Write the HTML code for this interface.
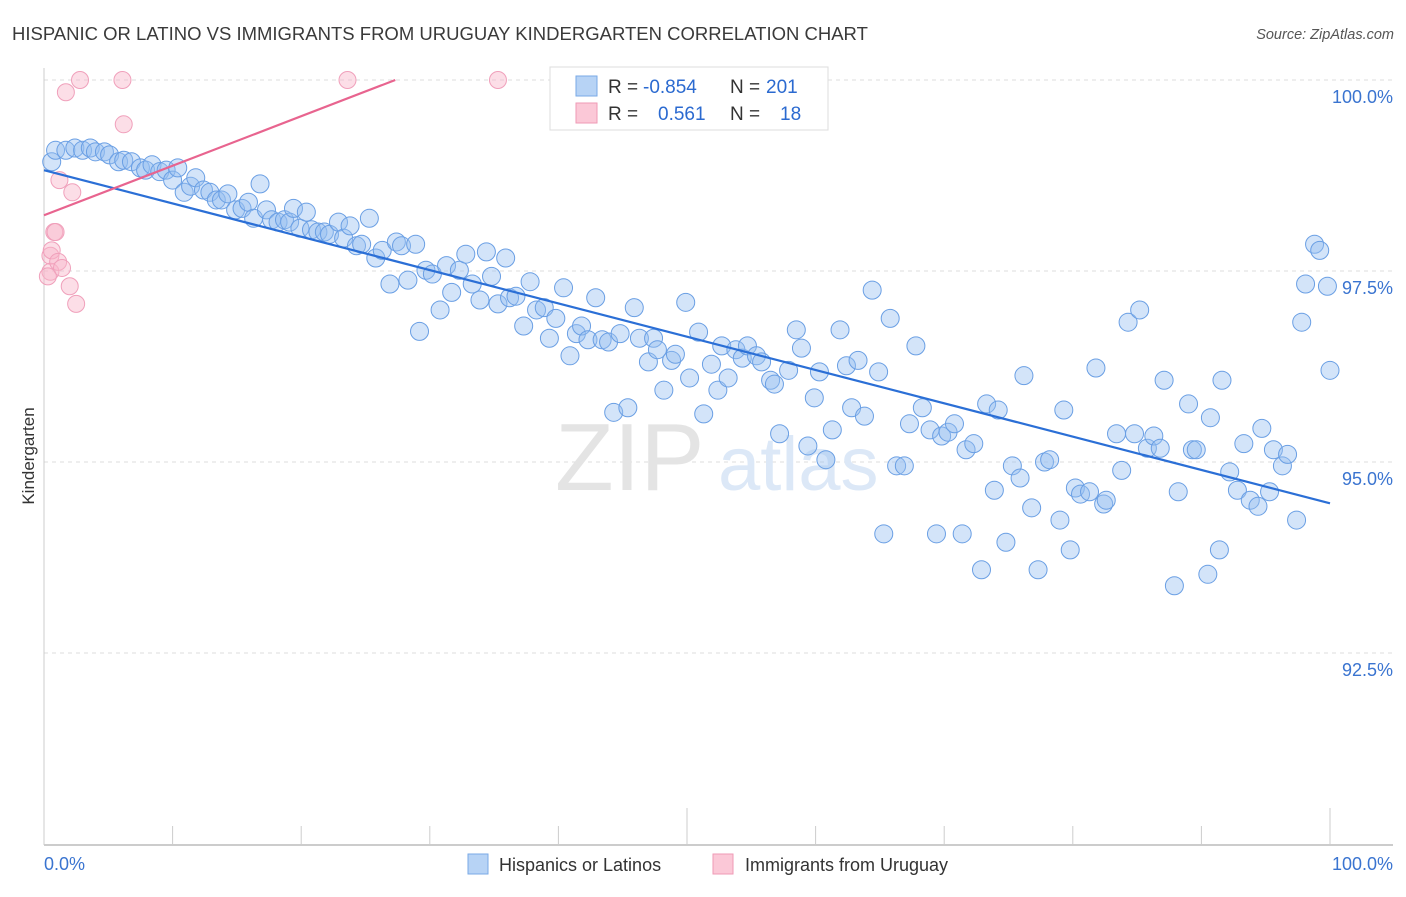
<!DOCTYPE html>
<html><head><meta charset="utf-8"><style>
body{margin:0;background:#fff;font-family:"Liberation Sans",sans-serif;}
svg text{font-family:"Liberation Sans",sans-serif;}
</style></head><body>
<svg width="1406" height="892">
<text x="12" y="40" font-size="18.5" fill="#3a3a3a">HISPANIC OR LATINO VS IMMIGRANTS FROM URUGUAY KINDERGARTEN CORRELATION CHART</text>
<text x="1394" y="39" font-size="14.5" fill="#555" text-anchor="end" font-style="italic">Source: ZipAtlas.com</text>
<g id="grid"></g>
<text x="555" y="490" font-size="96" fill="#e4e4e4" font-family="Liberation Serif">ZIP</text>
<text x="718" y="490" font-size="76" fill="#dce8f7">atlas</text>
<g id="pts"></g>
<g id="lines"></g>
<text x="34" y="456" font-size="17" fill="#333" text-anchor="middle" transform="rotate(-90 34 456)">Kindergarten</text>
<g>
<rect x="550" y="67" width="278" height="63" fill="#fff" stroke="#ddd"/>
<rect x="576" y="76" width="21" height="20" fill="#b7d3f5" stroke="#7aa9e6"/>
<rect x="576" y="103" width="21" height="20" fill="#fbc8d7" stroke="#ef9ab6"/>
<text x="608" y="93" font-size="19" fill="#333">R = <tspan fill="#2b6ad0" x="643">-0.854</tspan><tspan x="730">N =</tspan><tspan fill="#2b6ad0" x="766">201</tspan></text>
<text x="608" y="120" font-size="19" fill="#333">R = <tspan fill="#2b6ad0" x="658">0.561</tspan><tspan x="730">N =</tspan><tspan fill="#2b6ad0" x="780">18</tspan></text>
</g>
<g>
<rect x="468" y="854" width="20" height="20" fill="#b7d3f5" stroke="#7aa9e6"/>
<text x="499" y="871" font-size="18" fill="#333">Hispanics or Latinos</text>
<rect x="713" y="854" width="20" height="20" fill="#fbc8d7" stroke="#ef9ab6"/>
<text x="745" y="871" font-size="18" fill="#333">Immigrants from Uruguay</text>
</g>
</svg>
<script>
const yTicks=[100,97.5,95,92.5];
const yTickLabels=["100.0%","97.5%","95.0%","92.5%"];
const xTickLabels=["0.0%","100.0%"];
const blueX=[0.6,0.9,1.7,2.4,3.0,3.6,4.0,4.7,5.1,5.8,6.2,6.8,7.5,7.9,8.4,9.0,9.5,10.0,10.4,10.9,11.4,11.8,12.4,12.9,13.4,13.8,14.3,14.9,15.4,15.9,16.3,16.8,17.3,17.7,18.2,18.7,19.1,19.4,19.9,20.4,20.8,21.3,21.8,22.2,22.9,23.3,23.8,24.3,24.7,25.3,25.8,26.3,26.9,27.4,27.8,28.3,28.9,29.2,29.7,30.2,30.8,31.3,31.7,32.3,32.8,33.3,33.9,34.4,34.8,35.3,35.9,36.2,36.7,37.3,37.8,38.3,38.9,39.3,39.8,40.4,40.9,41.4,41.8,42.3,42.9,43.4,43.9,44.3,44.8,45.4,45.9,46.3,47.0,47.4,47.7,48.2,48.8,49.1,49.9,50.2,50.9,51.3,51.9,52.4,52.7,53.2,53.8,54.3,54.7,55.4,55.8,56.5,56.8,57.2,57.9,58.5,58.9,59.4,59.9,60.3,60.8,61.3,61.9,62.4,62.8,63.3,63.8,64.4,64.9,65.3,65.8,66.3,66.9,67.3,67.8,68.3,68.9,69.4,69.8,70.3,70.8,71.4,71.7,72.3,72.9,73.3,73.9,74.2,74.8,75.3,75.9,76.2,76.8,77.3,77.8,78.2,79.0,79.3,79.8,80.2,80.6,81.3,81.8,82.4,82.6,83.4,83.8,84.3,84.8,85.2,85.8,86.3,86.8,87.1,87.9,88.2,89.0,89.3,89.6,90.5,90.7,91.4,91.6,92.2,92.8,93.3,93.8,94.4,94.7,95.3,95.6,96.3,96.7,97.4,97.8,98.1,98.8,99.2,99.8,100];
const blueY=[98.93,99.08,99.08,99.11,99.08,99.11,99.06,99.06,99.02,98.93,98.95,98.93,98.85,98.82,98.89,98.80,98.82,98.69,98.85,98.53,98.61,98.72,98.56,98.53,98.43,98.43,98.51,98.30,98.32,98.40,98.19,98.64,98.30,98.17,98.14,98.17,98.14,98.32,98.06,98.27,98.04,98.01,98.01,97.98,98.14,97.93,98.09,97.83,97.85,98.19,97.67,97.77,97.33,97.88,97.83,97.38,97.85,96.71,97.51,97.46,96.99,97.57,97.22,97.51,97.72,97.33,97.12,97.75,97.43,97.07,97.67,97.15,97.17,96.78,97.36,96.99,97.02,96.62,96.88,97.28,96.39,96.68,96.78,96.60,97.15,96.60,96.57,95.65,96.68,95.71,97.02,96.62,96.31,96.62,96.47,95.94,96.33,96.41,97.09,96.10,96.70,95.63,96.28,95.94,96.52,96.10,96.47,96.36,96.52,96.39,96.31,96.07,96.02,95.37,96.20,96.73,96.49,95.21,95.84,96.18,95.03,95.42,96.73,96.26,95.71,96.33,95.60,97.25,96.18,94.06,96.88,94.95,94.95,95.50,96.52,95.71,95.42,94.06,95.34,95.39,95.50,94.06,95.16,95.24,93.59,95.76,94.63,95.68,93.95,94.95,94.79,96.13,94.40,93.59,95.00,95.03,94.24,95.68,93.85,94.66,94.58,94.61,96.23,94.45,94.50,95.37,94.89,96.83,95.37,96.99,95.18,95.34,95.18,96.07,93.38,94.61,95.76,95.16,95.16,93.53,95.58,93.85,96.07,94.87,94.63,95.24,94.50,94.42,95.44,94.61,95.16,94.95,95.10,94.24,96.83,97.33,97.85,97.77,97.30,96.20];
const pinkX=[0.5,0.5,0.6,0.8,0.9,1.1,1.2,1.4,1.7,2.0,2.2,2.5,2.8,6.1,6.2,23.6,35.3,0.3];
const pinkY=[97.70,97.49,97.77,98.01,98.01,97.62,98.69,97.54,99.84,97.30,98.53,97.07,100,100,99.42,100,100,97.43];
const blueTrend=[98.82,94.46];
const pinkTrend=[98.23,0.0648];
const NS='http://www.w3.org/2000/svg';
const xs=v=>44+v*12.86;
const ys=v=>80+(100-v)*76.4;
function mk(tag,attrs,parent){const e=document.createElementNS(NS,tag);for(const k in attrs)e.setAttribute(k,attrs[k]);parent.appendChild(e);return e;}
const grid=document.getElementById('grid');
yTicks.forEach((t,i)=>{
 const l=mk('line',{x1:44,x2:1393,y1:ys(t),y2:ys(t),stroke:'#ddd','stroke-dasharray':'4,4'},grid);
 
 
 const tx=mk('text',{x:1393,y:ys(t)+23,'font-size':18,fill:'#3a74d0','text-anchor':'end'},grid);
 tx.textContent=yTickLabels[i];
 
 
});
const ax=mk('line',{x1:44,x2:44,y1:68,y2:845,stroke:'#ccc'},grid);


const bx=mk('line',{x1:44,x2:1393,y1:845,y2:845,stroke:'#bbb','stroke-width':1.5},grid);


for(let i=0;i<=10;i++){
 const v=i*10;const long=(i==5||i==10);
 const t=mk('line',{x1:xs(v),x2:xs(v),y1:long?808:826,y2:845,stroke:'#ccc'},grid);
 
 
}
[[0,'start',44],[1,'end',1393]].forEach(([i,a,x])=>{
 const tx=mk('text',{x:x,y:870,'font-size':18,fill:'#3a74d0','text-anchor':a},grid);
 tx.textContent=xTickLabels[i];
 
 
});
const pts=document.getElementById('pts');
pinkX.forEach((x,i)=>{
 const c=mk('circle',{cx:xs(x),cy:ys(pinkY[i]),r:8.5,fill:'rgba(248,182,202,0.45)',stroke:'#f0a0bb','stroke-width':1},pts);
 
 
});
blueX.forEach((x,i)=>{
 const c=mk('circle',{cx:xs(x),cy:ys(blueY[i]),r:9,fill:'rgba(150,190,240,0.42)',stroke:'#6a9fe4','stroke-width':1},pts);
 
 
});
const lines=document.getElementById('lines');
const bl=mk('line',{x1:xs(0),y1:ys(blueTrend[0]),x2:xs(100),y2:ys(blueTrend[1]),stroke:'#2b6fd6','stroke-width':2.2},lines);


const xEnd=(100-pinkTrend[0])/pinkTrend[1];
const pl=mk('line',{x1:xs(0),y1:ys(pinkTrend[0]),x2:xs(xEnd),y2:ys(100),stroke:'#e8648f','stroke-width':2.2},lines);


</script>
</body></html>
